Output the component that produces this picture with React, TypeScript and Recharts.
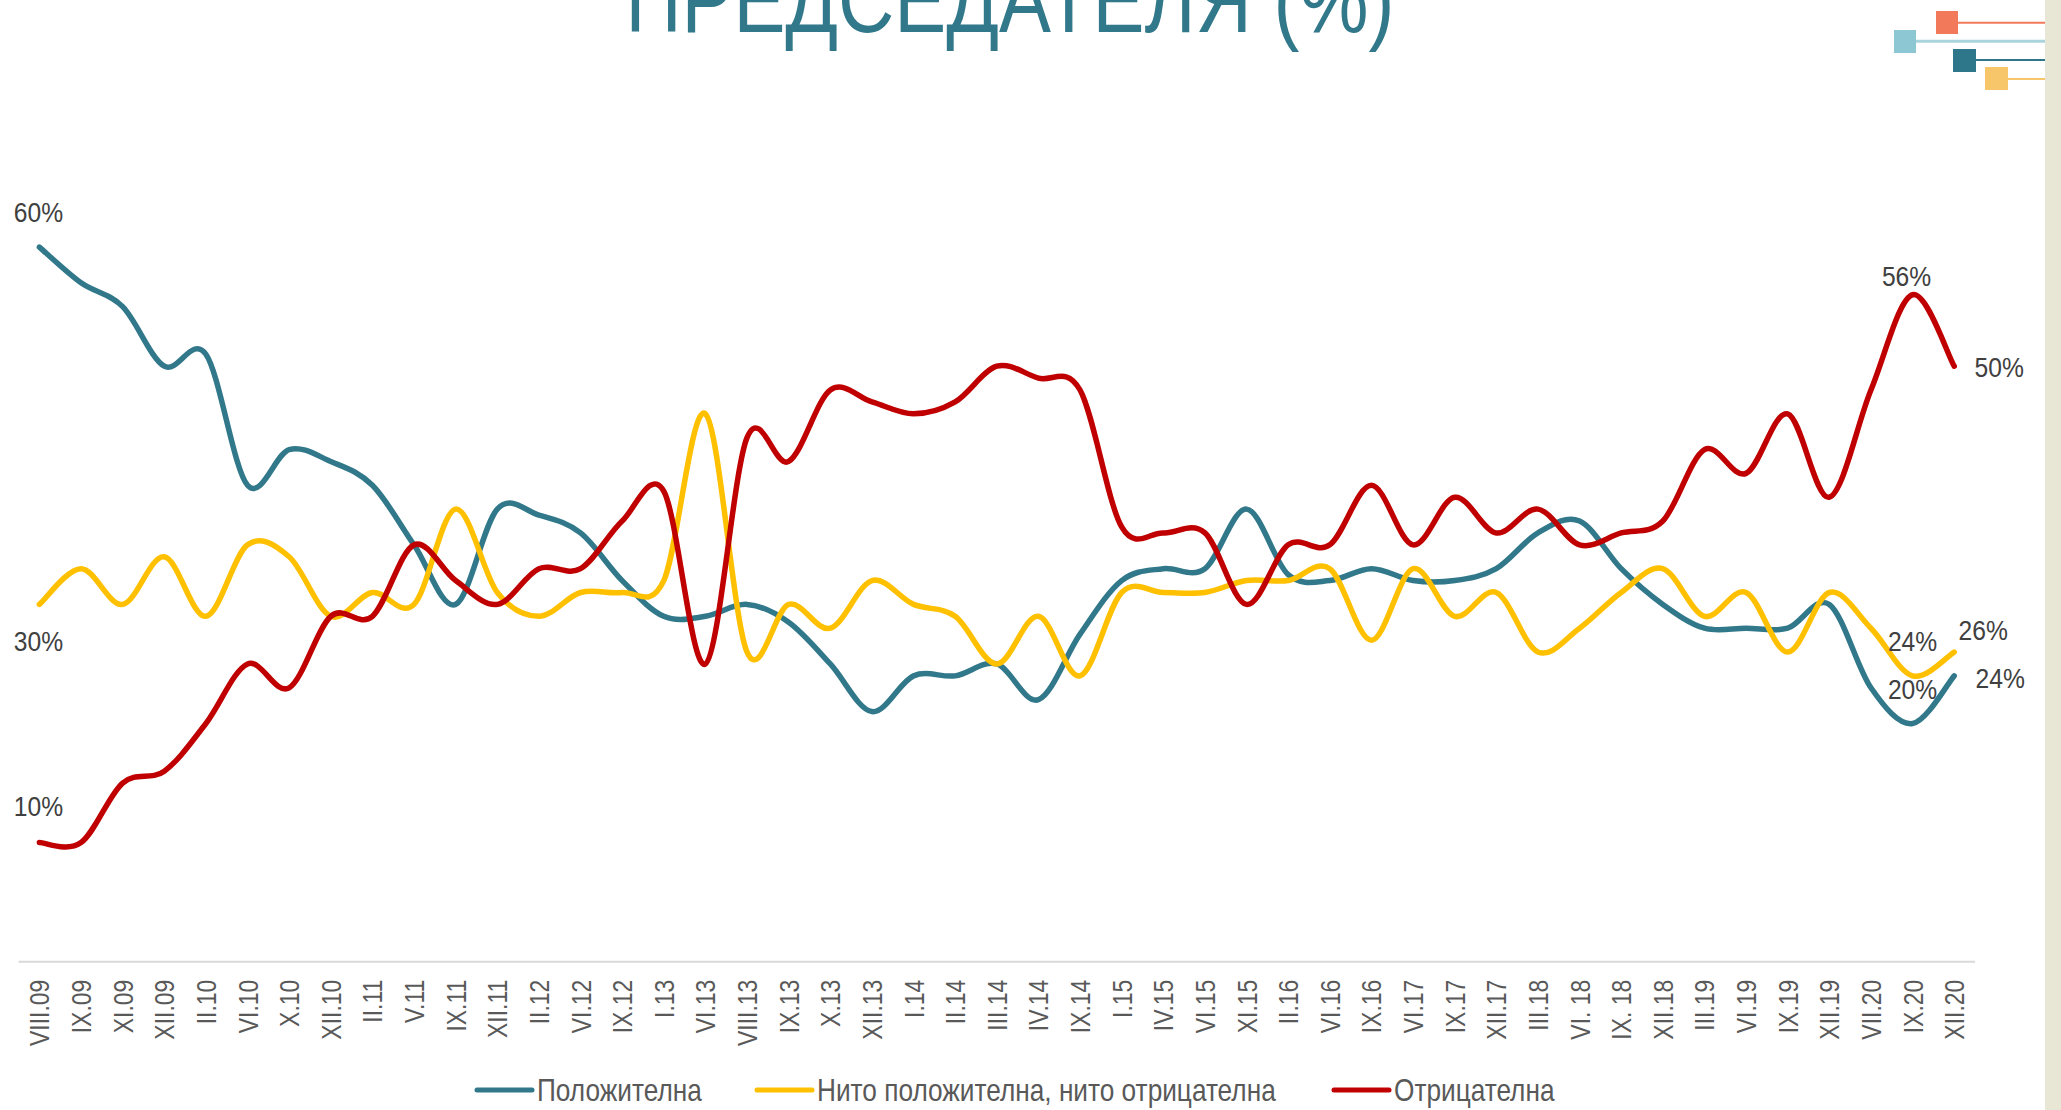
import { LineChart, Line, XAxis, YAxis, Legend, LabelList } from 'recharts'

const FONT = "'Liberation Sans', Arial, sans-serif"

const months = [
  'VIII.09', 'IX.09', 'XI.09', 'XII.09', 'II.10', 'VI.10', 'X.10', 'XII.10', 'II.11', 'V.11',
  'IX.11', 'XII.11', 'II.12', 'VI.12', 'IX.12', 'I.13', 'VI.13', 'VIII.13', 'IX.13', 'X.13',
  'XII.13', 'I.14', 'II.14', 'III.14', 'IV.14', 'IX.14', 'I.15', 'IV.15', 'VI.15', 'XI.15',
  'II.16', 'VI.16', 'IX.16', 'VI.17', 'IX.17', 'XII.17', 'III.18', 'VI. 18', 'IX. 18', 'XII.18',
  'III.19', 'VI.19', 'IX.19', 'XII.19', 'VII.20', 'IX.20', 'XII.20',
]

const seriesNames = ['Положителна', 'Нито положителна, нито отрицателна', 'Отрицателна']

const positive = [
  60, 57, 55, 50, 51, 40, 43, 42, 40, 35,
  30, 38, 37.5, 36, 32, 29, 29, 30, 28.5, 25,
  21, 24, 24, 25, 22, 27.5, 32, 33, 33, 38,
  32.5, 32, 33, 32, 32, 33, 36, 37, 33, 30,
  28, 28, 28, 30, 23, 20, 24,
]

const neutral = [
  30, 33, 30, 34, 29, 35, 34, 29, 31, 30,
  38, 31, 29, 31, 31, 32, 46, 26, 30, 28,
  32, 30, 29, 25, 29, 24, 31, 31, 31, 32,
  32, 33, 27, 33, 29, 31, 26, 28, 31, 33,
  29, 31, 26, 31, 28, 24, 26,
]

const negative = [
  10, 10, 15, 16, 20, 25, 23, 29, 29, 35,
  32, 30, 33, 33, 37, 39.5, 25, 44, 42, 48,
  47, 46, 47, 50, 49, 48, 36.5, 36, 36, 30,
  35, 35, 40, 35, 39, 36, 38, 35, 36, 37,
  43, 41, 46, 39, 48, 56, 50,
]

const rows = months.map((month, i) => ({
  month,
  positive: positive[i],
  neutral: neutral[i],
  negative: negative[i],
}))

// where the value labels sit, relative to their point (text centre)
const positiveSpots: Record<number, [number, number]> = { 0: [-1, -35], 45: [0, -35], 46: [46, 2] }
const neutralSpots: Record<number, [number, number]> = { 0: [-1, 37], 45: [0, -35], 46: [29, -22] }
const negativeSpots: Record<number, [number, number]> = { 0: [-1, -37], 45: [-6, -19], 46: [45, 1] }

// Excel-like smoothed line (Catmull-Rom through every point)
const smooth = (context: any) => {
  let pts: [number, number][] = []
  return {
    areaStart() {},
    areaEnd() {},
    lineStart() {
      pts = []
    },
    point(x: number, y: number) {
      pts.push([+x, +y])
    },
    lineEnd() {
      if (!pts.length) return
      context.moveTo(pts[0][0], pts[0][1])
      for (let i = 0; i < pts.length - 1; i++) {
        const p0 = pts[Math.max(0, i - 1)]
        const p1 = pts[i]
        const p2 = pts[i + 1]
        const p3 = pts[Math.min(pts.length - 1, i + 2)]
        context.bezierCurveTo(
          p1[0] + (p2[0] - p0[0]) / 6,
          p1[1] + (p2[1] - p0[1]) / 6,
          p2[0] - (p3[0] - p1[0]) / 6,
          p2[1] - (p3[1] - p1[1]) / 6,
          p2[0],
          p2[1],
        )
      }
    },
  }
}

const MonthTick = (props: any) => {
  const { x, y, payload } = props
  return (
    <g transform={`translate(${x + 10},${y}) rotate(-90) scale(0.82,1)`}>
      <text x={0} y={0} textAnchor="end" fontSize={28} fill="#595959" fontFamily={FONT}>
        {payload.value}
      </text>
    </g>
  )
}

const valueLabel = (spots: Record<number, [number, number]>) => (props: any) => {
  const { x, y, value, index } = props
  const spot = spots[index]
  if (!spot) return null
  return (
    <g transform={`translate(${x + spot[0]},${y + spot[1] + 10}) scale(0.88,1)`}>
      <text x={0} y={0} textAnchor="middle" fontSize={28} fill="#404040" fontFamily={FONT}>
        {value}%
      </text>
    </g>
  )
}

const legendX = [477, 757, 1334]

const ChartLegend = (props: any) => {
  const items = [...(props.payload || [])].sort(
    (a: any, b: any) => seriesNames.indexOf(a.value) - seriesNames.indexOf(b.value),
  )
  return (
    <svg width={2061} height={44}>
      {items.map((item: any, i: number) => (
        <g key={item.value}>
          <line
            x1={legendX[i]}
            x2={legendX[i] + 55}
            y1={22}
            y2={22}
            stroke={item.color}
            strokeWidth={5}
            strokeLinecap="round"
          />
          <g transform={`translate(${legendX[i] + 60},33) scale(0.82,1)`}>
            <text x={0} y={0} fontSize={32} fill="#595959" fontFamily={FONT}>
              {item.value}
            </text>
          </g>
        </g>
      ))}
    </svg>
  )
}

const Decor = () => (
  <svg
    width={2061}
    height={1110}
    style={{ position: 'absolute', left: 0, top: 0, pointerEvents: 'none' }}
  >
    <rect x={2045} y={0} width={16} height={1110} fill="#E8E7D5" />
    <g transform="translate(1010,32) scale(0.82,1)">
      <text x={0} y={0} textAnchor="middle" fontSize={95} fill="#31788A" fontFamily={FONT}>
        ПРЕДСЕДАТЕЛЯ (%)
      </text>
    </g>
    <line x1={1958} x2={2045} y1={22.7} y2={22.7} stroke="#F2795A" strokeWidth={2} />
    <rect x={1936} y={11} width={22} height={23} fill="#F2795A" />
    <line x1={1916} x2={2045} y1={41.3} y2={41.3} stroke="#A9D4DD" strokeWidth={3} />
    <rect x={1894} y={30} width={22} height={23} fill="#8CC7D3" />
    <line x1={1976} x2={2045} y1={60} y2={60} stroke="#2E7689" strokeWidth={2} />
    <rect x={1953} y={49} width={23} height={23} fill="#2E7689" />
    <line x1={2008} x2={2045} y1={79} y2={79} stroke="#F7C66A" strokeWidth={2} />
    <rect x={1985} y={67} width={23} height={23} fill="#F7C66A" />
  </svg>
)

export default function App() {
  return (
    <div
      style={{
        position: 'absolute',
        left: 0,
        top: 0,
        width: 2061,
        height: 1110,
        background: '#fff',
        overflow: 'hidden',
      }}
    >
      <LineChart
        width={2061}
        height={1110}
        data={rows}
        margin={{ top: 247.1, right: 86, bottom: 38.3, left: 18.6 }}
      >
        <XAxis
          dataKey="month"
          interval={0}
          height={110}
          tickLine={false}
          tickSize={0}
          tickMargin={18}
          axisLine={{ stroke: '#D9D9D9', strokeWidth: 2 }}
          padding={{ left: 20.8, right: 20.8 }}
          tick={<MonthTick />}
        />
        <YAxis hide domain={[0, 60]} />
        <Legend
          verticalAlign="middle"
          content={<ChartLegend />}
          wrapperStyle={{ top: 1068, left: 0, width: 2061, height: 44, margin: 0 }}
        />
        <Line
          name={seriesNames[0]}
          dataKey="positive"
          type={smooth as any}
          stroke="#31788A"
          strokeWidth={5.5}
          strokeLinecap="round"
          dot={false}
          activeDot={false}
          isAnimationActive={false}
        >
          <LabelList dataKey="positive" content={valueLabel(positiveSpots)} />
        </Line>
        <Line
          name={seriesNames[1]}
          dataKey="neutral"
          type={smooth as any}
          stroke="#FFC000"
          strokeWidth={5.5}
          strokeLinecap="round"
          dot={false}
          activeDot={false}
          isAnimationActive={false}
        >
          <LabelList dataKey="neutral" content={valueLabel(neutralSpots)} />
        </Line>
        <Line
          name={seriesNames[2]}
          dataKey="negative"
          type={smooth as any}
          stroke="#C00000"
          strokeWidth={5.5}
          strokeLinecap="round"
          dot={false}
          activeDot={false}
          isAnimationActive={false}
        >
          <LabelList dataKey="negative" content={valueLabel(negativeSpots)} />
        </Line>
      </LineChart>
      <Decor />
    </div>
  )
}
